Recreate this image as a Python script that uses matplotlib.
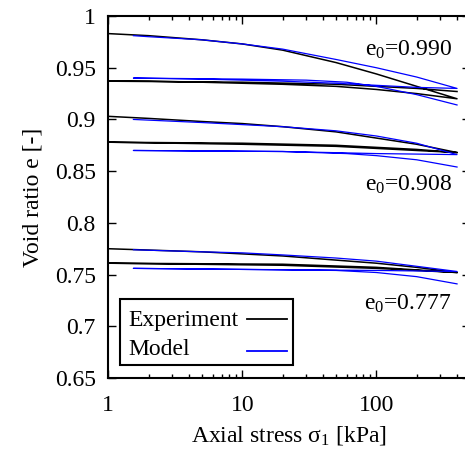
#import libraries
import numpy as np
import matplotlib.pyplot as plt
from matplotlib.ticker import FixedLocator, NullFormatter
from matplotlib.patches import Rectangle

plt.rcParams.update({'font.size': 17,
                     'font.family': 'Liberation Serif',
                     'mathtext.fontset': 'custom',
                     'mathtext.rm': 'Liberation Serif',
                     'mathtext.it': 'Liberation Serif:italic'})

# e0 = 0.990 : loading, unloading, reloading
exp1_s = [1, 2, 5, 10, 20, 50, 100, 200, 400, 200, 100, 50, 20, 10, 5, 2, 1, 10, 50, 100, 200, 400]
exp1_e = [0.983, 0.981, 0.977, 0.973, 0.967, 0.955, 0.944, 0.932, 0.920,
          0.925, 0.929, 0.932, 0.934, 0.935, 0.936, 0.937, 0.937,
          0.936, 0.934, 0.932, 0.930, 0.927]
mod1_s = [1.54, 2, 5, 10, 20, 50, 100, 200, 400, 200, 100, 50, 20, 10, 5, 1.54, 10, 30, 60, 100, 200, 400]
mod1_e = [0.981, 0.980, 0.977, 0.973, 0.968, 0.958, 0.950, 0.941, 0.930,
          0.931, 0.933, 0.935, 0.937, 0.938, 0.939, 0.940,
          0.939, 0.938, 0.936, 0.932, 0.924, 0.914]

# e0 = 0.908
exp2_s = [1, 2, 5, 10, 20, 50, 100, 200, 400, 200, 100, 50, 10, 1, 10, 50, 100, 200, 400]
exp2_e = [0.903, 0.901, 0.898, 0.896, 0.893, 0.888, 0.882, 0.876, 0.868,
          0.870, 0.872, 0.874, 0.876, 0.878,
          0.877, 0.875, 0.873, 0.871, 0.868]
mod2_s = [1.54, 5, 10, 20, 50, 100, 200, 400, 100, 20, 1.54, 20, 60, 100, 200, 400]
mod2_e = [0.900, 0.897, 0.895, 0.893, 0.889, 0.884, 0.877, 0.866,
          0.867, 0.869, 0.870,
          0.869, 0.867, 0.865, 0.861, 0.854]

# e0 = 0.777
exp3_s = [1, 5, 10, 20, 50, 100, 200, 400, 100, 20, 1, 20, 100, 400]
exp3_e = [0.775, 0.772, 0.770, 0.768, 0.764, 0.761, 0.757, 0.752,
          0.756, 0.759, 0.761,
          0.760, 0.757, 0.752]
mod3_s = [1.54, 5, 10, 20, 50, 100, 200, 400, 100, 10, 1.54, 10, 50, 100, 200, 400]
mod3_e = [0.774, 0.772, 0.771, 0.769, 0.766, 0.763, 0.758, 0.753,
          0.754, 0.755, 0.756,
          0.755, 0.754, 0.752, 0.748, 0.741]

labels = ['e$_0$=0.990', 'e$_0$=0.908', 'e$_0$=0.777']
label_y = [0.962, 0.831, 0.716]

fig = plt.figure(figsize=(4.65, 4.5), dpi=100)
ax = fig.add_axes([0.2329, 0.16, 0.7779, 0.8044])

for s, e in [(exp1_s, exp1_e), (exp2_s, exp2_e), (exp3_s, exp3_e)]:
  ax.plot(s, e, 'k-', lw=1.1)
for s, e in [(mod1_s, mod1_e), (mod2_s, mod2_e), (mod3_s, mod3_e)]:
  ax.plot(s, e, '-', color='#0000ff', lw=0.9)

for txt, y in zip(labels, label_y):
  ax.text(364, y, txt, ha='right', va='baseline')

ax.set_xscale('log')
ax.set_xlim(1, 500)
ax.set_ylim(0.65, 1.0)
ax.set_xticks([1, 10, 100])
ax.set_xticklabels(['1', '10', '100'])
ax.xaxis.set_minor_locator(FixedLocator([k * 10**d for d in range(3) for k in range(2, 10)]))
ax.xaxis.set_minor_formatter(NullFormatter())
ax.set_yticks([0.65, 0.7, 0.75, 0.8, 0.85, 0.9, 0.95, 1.0])
ax.set_yticklabels(['0.65', '0.7', '0.75', '0.8', '0.85', '0.9', '0.95', '1'])
ax.tick_params(which='major', direction='in', length=6, width=1.0, top=True, right=True)
ax.tick_params(which='minor', direction='in', length=3, width=1.0, top=True, right=True)
ax.tick_params(axis='x', which='major', pad=12)
ax.tick_params(axis='y', which='major', pad=9)
for sp in ax.spines.values():
  sp.set_linewidth(1.5)

ax.set_xlabel(r'Axial stress $\mathregular{\sigma_1}$ [kPa]', labelpad=6)
ax.set_ylabel('Void ratio e [-]', labelpad=8)

# key box: text on the left, line sample on the right
ax.add_patch(Rectangle((0.032, 0.036), 0.479, 0.182, transform=ax.transAxes,
                       fill=True, facecolor='white', edgecolor='black', lw=1.5, zorder=5))
ax.text(0.055, 0.144, 'Experiment', transform=ax.transAxes, va='baseline', zorder=6)
ax.text(0.055, 0.0635, 'Model', transform=ax.transAxes, va='baseline', zorder=6)
ax.plot([0.383, 0.494], [0.163, 0.163], 'k-', lw=1.3, transform=ax.transAxes, zorder=6)
ax.plot([0.383, 0.494], [0.0755, 0.0755], '-', color='#0000ff', lw=1.3,
        transform=ax.transAxes, zorder=6)

plt.savefig('out.png', dpi=100)
